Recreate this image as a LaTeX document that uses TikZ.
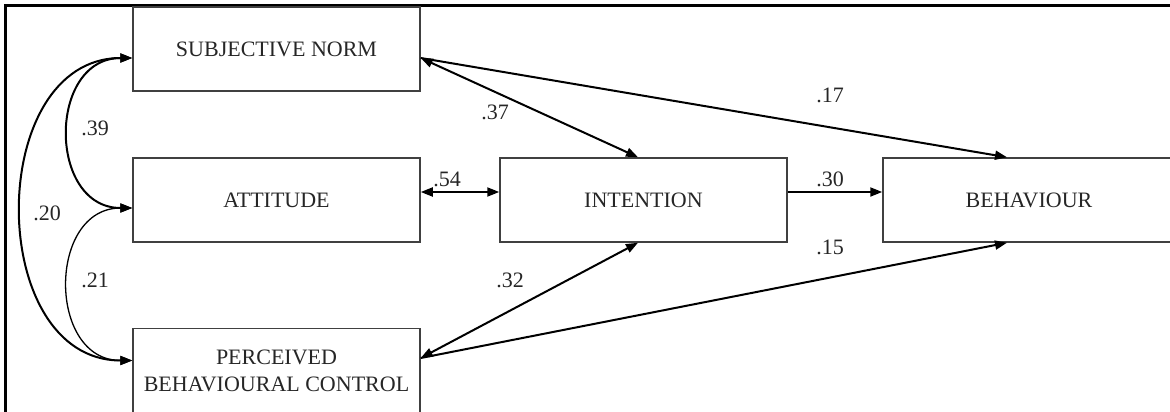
\documentclass[tikz,border=0pt]{standalone}
\usepackage{fontspec}
\setmainfont{Liberation Serif}
\usetikzlibrary{arrows.meta}

\begin{document}
\begin{tikzpicture}
	[x=1pt,y=-1pt,
	construct/.style={draw=black!75, line width=1.5pt, minimum width=287pt, minimum height=84pt, inner sep=0pt, align=center, text=black!85, font=\fontsize{22}{27}\selectfont},
	coef/.style={inner sep=0pt, text=black!85, font=\fontsize{22}{25}\selectfont},
	effect/.style={line width=2pt, -{Triangle[length=12pt,width=9pt]}},
	corr/.style={line width=2pt, {Triangle[length=12pt,width=9pt]}-{Triangle[length=12pt,width=9pt]}}]

\useasboundingbox (0,0) rectangle (1170,412);
\clip (0,0) rectangle (1170,412);
\draw [line width=3pt] (5,420) -- (5,6) -- (1180,6);

\node [construct] (sn) at (276.5,49) {SUBJECTIVE NORM};
\node [construct] (att) at (276.5,200) {ATTITUDE};
\node [construct] (pbc) at (276.5,370.5) {PERCEIVED\\BEHAVIOURAL CONTROL};
\node [construct] (int) at (643.5,200) {INTENTION};
\node [construct, minimum width=292pt] (beh) at (1029,200) {BEHAVIOUR};

\draw [corr] ([yshift=-9pt]sn.west) to [out=180,in=180,looseness=1.45] ([yshift=-8pt]att.west);
\draw [corr, line width=1.3pt] ([yshift=-8pt]att.west) to [out=180,in=180,looseness=1.43] ([yshift=10pt]pbc.west);
\draw [corr] ([yshift=-9pt]sn.west) to [out=180,in=180,looseness=1.25] ([yshift=10pt]pbc.west);

\draw [corr] ([yshift=-9pt]sn.east) -- ([xshift=-5.5pt]int.north);
\draw [effect] ([yshift=-9pt]sn.east) -- ([xshift=-22pt]beh.north);
\draw [corr] ([yshift=8pt]att.east) -- ([yshift=8pt]int.west);
\draw [effect] ([yshift=8pt]int.east) -- ([yshift=8pt]beh.west);
\draw [corr] ([yshift=12.5pt]pbc.east) -- ([xshift=-5.5pt]int.south);
\draw [effect] ([yshift=12.5pt]pbc.east) -- ([xshift=-22pt]beh.south);

\node [coef] (c39) at (95,128) {.39};
\node [coef] (c20) at (47,213) {.20};
\node [coef] (c21) at (95,280) {.21};
\node [coef] (c37) at (495,112) {.37};
\node [coef] (c54) at (447,179) {.54};
\node [coef] (c32) at (510,280) {.32};
\node [coef] (c17) at (830,95) {.17};
\node [coef] (c30) at (830,179) {.30};
\node [coef] (c15) at (830,247) {.15};

\end{tikzpicture}
\end{document}
